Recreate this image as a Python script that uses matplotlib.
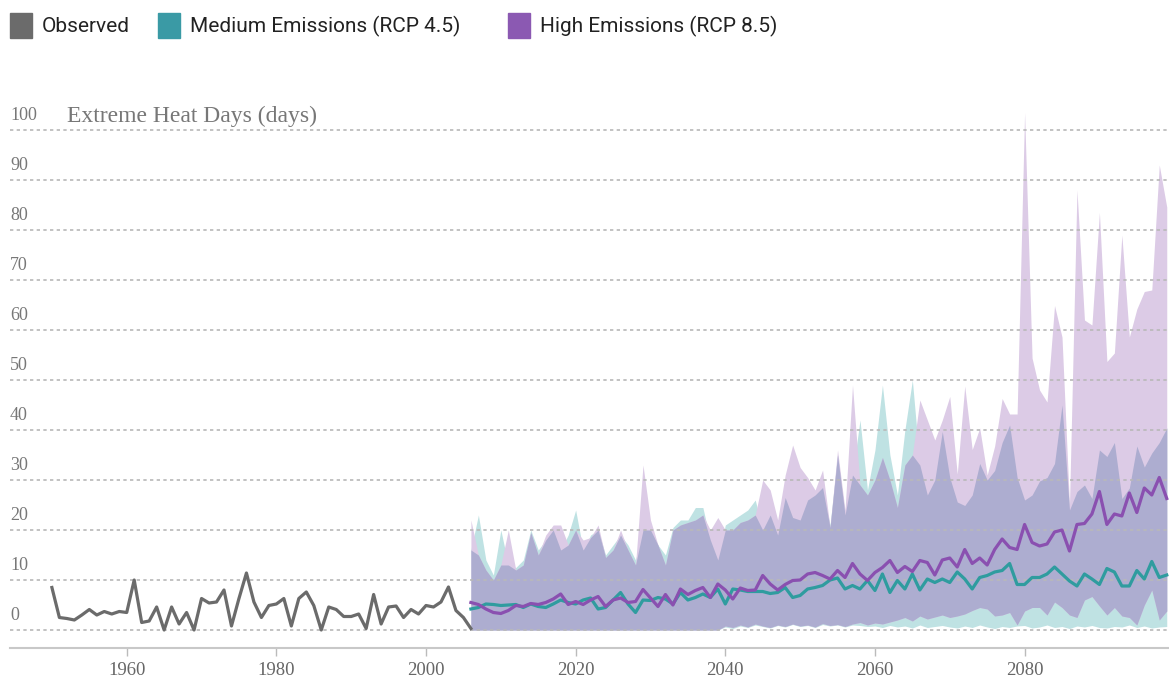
"""
Extreme heat days: observed record and RCP 4.5 / 8.5 projections
"""
import matplotlib.pyplot as plt
import matplotlib.transforms as mtransforms
import numpy as np
from matplotlib.patches import Rectangle


obs_years = np.arange(1950, 2007)
observed = [8.5, 2.5, 2.3, 2.0, 3.0, 4.1, 3.0, 3.7, 3.2, 3.7,
            3.5, 10.0, 1.5, 1.8, 4.6, 0.0, 4.6, 1.2, 3.5, 0.0,
            6.3, 5.4, 5.6, 8.0, 0.8, 6.3, 11.4, 5.6, 2.5, 4.9,
            5.2, 6.3, 0.8, 6.3, 7.6, 4.9, 0.0, 4.6, 4.1, 2.7,
            2.7, 3.2, 0.3, 7.1, 1.2, 4.6, 4.8, 2.5, 4.1, 3.2,
            4.9, 4.6, 5.6, 8.6, 3.9, 2.5, 0.3]

proj_years = np.arange(2006, 2100)

# medians
rcp85_med = [5.5, 5.1, 4.2, 3.5, 3.3, 3.9, 4.9, 4.7, 5.3, 5.1, 5.5, 6.2, 7.2, 5.1, 5.7, 5.1,
             6.0, 6.7, 4.7, 6.0, 6.4, 5.5, 5.7, 8.1, 6.4, 4.7, 7.1, 5.0, 8.2, 7.1, 7.9,
             8.5, 6.5, 9.2, 8.0, 6.2, 8.4, 7.9, 8.0, 10.9, 9.2, 8.0, 9.1, 9.9, 10.0, 11.2, 11.5,
             10.9, 10.2, 11.9, 10.5, 13.3, 11.2, 9.9, 11.5, 12.5, 13.9, 11.5, 12.7, 11.7, 13.9, 13.5, 11.0,
             14.0, 14.4, 12.6, 16.1, 13.3, 14.4, 13.0, 16.1, 18.2, 16.5, 16.1, 21.1, 17.5, 16.8, 17.2, 19.6,
             20.0, 15.8, 21.1, 21.3, 23.2, 27.7, 21.1, 23.2, 22.8, 27.4, 23.5, 28.4, 27.0, 30.5, 26.3]
rcp45_med = [4.2, 4.5, 5.2, 5.1, 4.9, 5.0, 5.1, 4.5, 5.2, 4.7, 4.5, 5.2, 6.0, 5.5, 5.2, 6.0,
             6.4, 4.2, 4.5, 6.0, 7.5, 5.2, 3.5, 6.0, 5.9, 6.5, 6.2, 5.2, 7.5, 6.0, 6.5,
             7.2, 6.5, 8.2, 5.2, 8.2, 8.0, 7.7, 7.7, 7.7, 7.3, 7.5, 8.5, 6.5, 6.9, 8.2, 8.5,
             8.9, 10.0, 10.4, 8.2, 8.9, 8.2, 9.9, 7.9, 11.2, 7.5, 9.9, 8.2, 11.2, 8.0, 10.2, 9.5,
             10.2, 9.5, 11.6, 10.2, 8.2, 10.5, 10.9, 11.6, 11.9, 13.3, 9.1, 9.1, 10.5, 10.5, 11.2, 12.6,
             11.2, 9.8, 8.8, 11.2, 10.2, 9.1, 12.3, 11.6, 8.8, 8.8, 11.9, 10.2, 13.7, 10.5, 11.0]

# ranges
rcp85_hi = [22, 15, 12, 10, 13, 20, 12, 13, 19.5, 15, 19, 21, 21, 17, 20, 18,
            18.5, 21, 14.5, 16, 20, 16, 13, 33, 22, 17, 13, 20, 21, 21.5, 22,
            23, 20, 22.5, 20, 20, 21.5, 22, 23, 30, 28, 22, 31, 37, 32.5, 30.5, 28,
            32, 20.5, 36, 24, 49, 29, 27, 30, 34.5, 30, 24.5, 33, 35, 46, 42, 38,
            42, 46.7, 31.2, 48.8, 36.1, 40.4, 31, 36.8, 46.3, 43.2, 43.2, 103.5, 54.4, 48, 45.6, 64.9,
            58.6, 25, 88, 62, 61, 83.5, 53.7, 55.4, 79, 58.6, 64.2, 67.7, 68, 93, 84.6]
rcp45_hi = [16, 23, 14, 11, 20, 13, 12.5, 14, 20, 16, 18, 20, 16, 19, 24, 16,
            19, 20, 15, 17, 19, 17, 14, 20, 20, 17, 15, 20.5, 22, 22, 24.5,
            24.5, 18, 14, 21, 22, 23, 24, 26, 20, 23, 19, 26.5, 22.5, 22, 26, 27,
            28.5, 21, 35, 23, 31, 42, 28, 36, 49, 35, 27, 40, 50, 33, 27, 30,
            39.7, 30.5, 25.6, 24.9, 27, 33.3, 30, 31.9, 37.5, 41, 30.5, 26, 27, 29.8, 30.5, 33.3,
            45, 24, 27.7, 29, 26.3, 36, 34.7, 37.5, 26.3, 28.4, 36.8, 32.6, 35.4, 37.5, 40.4]
rcp85_lo = [0] * 34 + [
    0.8, 0.5, 1.0, 0.6, 1.2, 0.8, 0.5, 1.0, 0.7, 1.2, 0.8, 1.0, 0.6, 1.3, 0.9, 1.1,
    0.7, 1.2, 1.5, 1.0, 1.4, 1.2, 1.6,
    2.0, 2.5, 1.8, 2.8, 2.2, 2.6, 3.0, 2.5, 2.8, 3.2, 3.9, 4.5, 4.2, 2.8, 3.0, 3.5,
    1.0, 3.8, 4.5, 4.5, 3.0, 5.6, 4.5, 3.0, 2.5, 6.0, 6.7, 4.8, 3.0, 4.5, 2.8, 2.5,
    1.0, 5.0, 8.0, 2.0, 3.8]
rcp45_lo = [0] * 34 + [
    0.6, 0.3, 0.8, 0.5, 1.0, 0.7, 0.4, 0.9, 0.6, 1.1, 0.7, 0.9, 0.5, 1.1, 0.8, 1.0,
    0.6, 1.0, 0.9, 0.7, 0.8, 0.5, 0.9,
    0.6, 0.8, 0.4, 1.0, 0.5, 0.7, 0.9, 0.6, 0.4, 0.8, 0.5, 1.0, 0.6, 0.3, 0.7, 0.5,
    0.8, 0.9, 0.4, 0.6, 1.0, 0.5, 0.7, 0.3, 0.8, 0.6, 0.9, 0.5, 0.4, 0.7, 0.6, 1.0,
    0.5, 0.8, 0.4, 0.6, 0.7]

legend_labels = ["Observed", "Medium Emissions (RCP 4.5)", "High Emissions (RCP 8.5)"]

GREY = "#6b6b6b"
TEAL = "#2f9c9f"
PURPLE = "#8a50b0"
TEAL_LIGHT = "#bfe2e3"
PURPLE_LIGHT = "#dccbe6"
OVERLAP = "#adadd0"
SERIF = ["Liberation Serif", "DejaVu Serif"]

W, H = 1169, 679
fig = plt.figure(figsize=(W / 100, H / 100), dpi=100)
ax = fig.add_axes([10 / W, 31 / H, 1159 / W, 548 / H])

t_lo, t_hi = np.array(rcp45_lo, float), np.array(rcp45_hi, float)
p_lo, p_hi = np.array(rcp85_lo, float), np.array(rcp85_hi, float)
both_lo = np.maximum(t_lo, p_lo)
both_hi = np.minimum(t_hi, p_hi)

ax.fill_between(proj_years, t_lo, t_hi, color=TEAL_LIGHT, lw=0, zorder=1)
ax.fill_between(proj_years, p_lo, p_hi, color=PURPLE_LIGHT, lw=0, zorder=1.1)
ax.fill_between(proj_years, both_lo, both_hi, where=both_hi > both_lo,
                interpolate=True, color=OVERLAP, lw=0, zorder=1.2)

# dotted grid over the bands
for v in range(0, 101, 10):
    ax.axhline(v, color="#b8b8b8", lw=1.2, dashes=(2.0, 2.0), zorder=2)

ax.plot(proj_years, rcp45_med, color=TEAL, lw=2.3, zorder=3)
ax.plot(proj_years, rcp85_med, color=PURPLE, lw=2.3, zorder=3.1)
ax.plot(obs_years, observed, color=GREY, lw=2.3, zorder=3.2)

ax.set_xlim(1944.4, 2099.3)
ax.set_ylim(-3.6, 106)
ax.set_yticks([])
ax.set_xticks(range(1960, 2081, 20))
ax.tick_params(axis="x", length=6, width=1, color="#bbbbbb", labelsize=13.5,
               labelcolor="#666666", pad=4)
for lab in ax.get_xticklabels():
    lab.set_family(SERIF)
for side in ["left", "right", "top"]:
    ax.spines[side].set_visible(False)
ax.spines["bottom"].set_color("#c8c8c8")
ax.spines["bottom"].set_linewidth(1.5)

trans = mtransforms.blended_transform_factory(ax.transAxes, ax.transData)
for v in range(0, 101, 10):
    ax.text(0, v + 2.8, str(v), transform=trans, ha="left", va="center",
            fontsize=13, color="#777777", family=SERIF)
ax.text(0.0492, 102.8, "Extreme Heat Days (days)", transform=trans, ha="left",
        va="center", fontsize=17, color="#777777", family=SERIF)

# legend along the top
legend_colors = [GREY, "#3a9aa5", "#8b59b2"]
legend_x = [10, 158, 508]
for x0, col, lab in zip(legend_x, legend_colors, legend_labels):
    fig.patches.append(Rectangle((x0 / W, (H - 38) / H), 22 / W, 25 / H,
                                 transform=fig.transFigure, color=col))
    fig.text((x0 + 32) / W, (H - 26) / H, lab, ha="left", va="center",
             fontsize=15, color="#222222", family=["Roboto", "DejaVu Sans"])

fig.savefig("out.png", dpi=100)
